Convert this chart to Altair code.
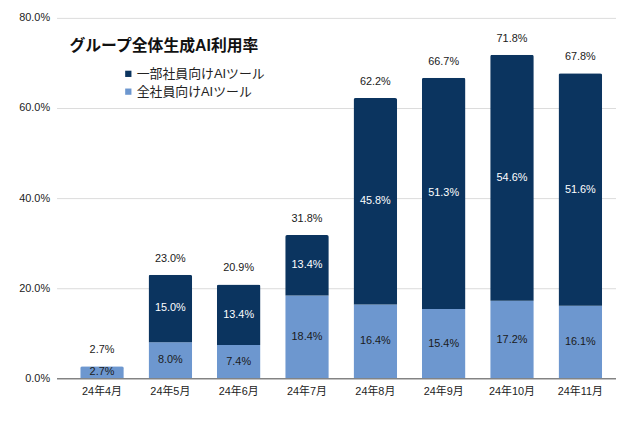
import altair as alt
import pandas as pd

months = ["24年4月", "24年5月", "24年6月", "24年7月", "24年8月", "24年9月", "24年10月", "24年11月"]
series_names = ["一部社員向けAIツール", "全社員向けAIツール"]
some_staff = [0.0, 15.0, 13.4, 13.4, 45.8, 51.3, 54.6, 51.6]
all_staff = [2.7, 8.0, 7.4, 18.4, 16.4, 15.4, 17.2, 16.1]
totals = [2.7, 23.0, 20.9, 31.8, 62.2, 66.7, 71.8, 67.8]
y_ticks = [0, 20, 40, 60, 80]

DARK = "#0b345f"
LIGHT = "#6d97cf"
FONT = "'Liberation Sans', Arial, 'Noto Sans CJK JP', sans-serif"

rows = []
for m, a, s in zip(months, all_staff, some_staff):
    rows.append({"month": m, "series": series_names[1], "value": a, "ord": 0})
    rows.append({"month": m, "series": series_names[0], "value": s, "ord": 1})
df = pd.DataFrame(rows)
tot = pd.DataFrame({"month": months, "total": totals})

xenc = alt.X(
    "month:N", sort=months, title=None,
    scale=alt.Scale(paddingInner=0.362, paddingOuter=0.275, align=0.63),
    axis=alt.Axis(labelAngle=0, ticks=False, domainColor="#555555", labelPadding=7,
                  labelFontSize=11, labelColor="#222222", labelFont=FONT),
)
yscale = alt.Scale(domain=[0, 80], nice=False)

bars = alt.Chart(df).mark_bar(cornerRadiusTopLeft=2, cornerRadiusTopRight=2).encode(
    x=xenc,
    y=alt.Y("value:Q", stack="zero", scale=yscale, title=None,
            axis=alt.Axis(values=y_ticks, labelExpr="format(datum.value, '.1f') + '%'",
                          domain=False, ticks=False, gridColor="#dcdcdc", labelPadding=7,
                          labelFontSize=11, labelColor="#222222", labelFont=FONT)),
    color=alt.Color("series:N", scale=alt.Scale(domain=series_names, range=[DARK, LIGHT]),
                    legend=alt.Legend(title=None, orient="none", legendX=66, legendY=50,
                                      symbolType="square", symbolSize=40, labelFontSize=13,
                                      labelFont=FONT, labelColor="#222222", rowPadding=4,
                                      labelOffset=2, padding=0, symbolStrokeWidth=0)),
    order=alt.Order("ord:Q"),
)

seg_text = alt.Chart(df).transform_filter("datum.value > 0").transform_stack(
    stack="value", groupby=["month"], as_=["v0", "v1"], sort=[alt.SortField("ord")]
).transform_calculate(
    mid="(datum.v0 + datum.v1) / 2",
    label="format(datum.value, '.1f') + '%'",
).mark_text(fontSize=11, font=FONT, baseline="middle").encode(
    x=alt.X("month:N", sort=months),
    y=alt.Y("mid:Q", scale=yscale),
    text="label:N",
    color=alt.Color("series:N", scale=alt.Scale(domain=series_names, range=["#ffffff", "#1a1a1a"]), legend=None),
)

tot_text = alt.Chart(tot).transform_calculate(
    label="format(datum.total, '.1f') + '%'"
).mark_text(fontSize=11, font=FONT, baseline="middle", dy=-16, color="#1a1a1a").encode(
    x=alt.X("month:N", sort=months),
    y=alt.Y("total:Q", scale=yscale),
    text="label:N",
)

chart = alt.layer(bars, seg_text, tot_text).resolve_scale(color="independent").properties(
    width=565, height=364,
    autosize=alt.AutoSizeParams(type="none"),
    padding={"left": 49, "top": 8, "right": 0, "bottom": 30},
    title=alt.TitleParams("グループ全体生成AI利用率", anchor="start", frame="group", dx=13,
                          offset=-42, fontSize=16, fontWeight="bold", font=FONT, color="#111111"),
).configure_view(stroke=None)

chart.save("out.html", embed_options={"renderer": "svg", "actions": False})
